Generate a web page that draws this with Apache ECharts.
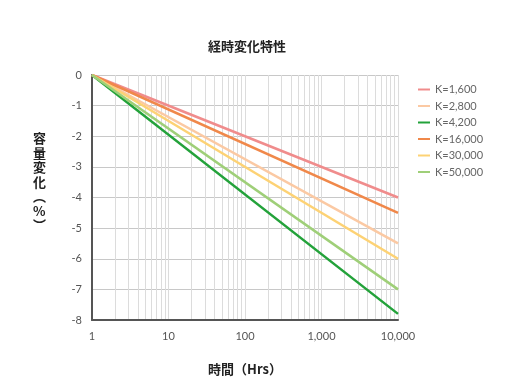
<!DOCTYPE html>
<html><head><meta charset="utf-8">
<script src="https://cdn.jsdelivr.net/npm/echarts@6/dist/echarts.min.js"></script>
<style>html,body{margin:0;padding:0;background:#fff}#c{width:520px;height:390px}</style>
</head><body><div id="c"></div>
<script>
const title = '経時変化特性';
const xName = '時間（Hrs）';
const yNameChars = ['容','量','変','化','︵','%','︶'];
const hours = [1, 10000];
const seriesNames = ['K=1,600','K=2,800','K=4,200','K=16,000','K=30,000','K=50,000'];
const seriesStart = [0, 0, 0, 0, 0, 0];
const seriesEnd = [-4, -5.5, -7.8, -4.5, -6, -7];
const colors = ['#f08c8c','#fbc9a3','#23a23a','#f0884a','#fdd274','#9fcf78'];
const minorGrid = [2,3,4,5,6,7,8,9,20,30,40,50,60,70,80,90,200,300,400,500,600,700,800,900,2000,3000,4000,5000,6000,7000,8000,9000];
const yTicks = [0,-1,-2,-3,-4,-5,-6,-7,-8];

const chart = echarts.init(document.getElementById('c'));
const series = seriesNames.map((n,i)=>({
  name:n, type:'line', z:10, symbol:'none', silent:true,
  lineStyle:{width:2.5,color:colors[i],type:'solid'}, itemStyle:{color:colors[i]},
  data:[[hours[0],seriesStart[i]],[hours[1],seriesEnd[i]]]
}));
series.push({
  name:'grid', type:'line', z:0, data:[], symbol:'none', silent:true,
  markLine:{z:0, silent:true, symbol:'none', label:{show:false}, animation:false,
    lineStyle:{color:'#dcdcdc',width:1,type:'solid'},
    data:minorGrid.map(v=>({xAxis:v}))}
});
chart.setOption({
  animation:false,
  textStyle:{fontFamily:'Lato, "Noto Sans CJK JP", sans-serif'},
  title:{text:title,left:203,top:35,textStyle:{fontSize:13,fontWeight:'bold',color:'#222',fontFamily:'"Noto Sans CJK JP", sans-serif'}},
  legend:{data:seriesNames,orient:'vertical',left:413,top:79,itemGap:5.5,icon:'rect',itemWidth:12,itemHeight:2,
    textStyle:{fontSize:11,color:'#666',fontFamily:'Lato, sans-serif'}},
  grid:{left:92,right:122,top:75,bottom:70,containLabel:false},
  xAxis:{type:'log',logBase:10,min:1,max:10000,
    name:xName,nameLocation:'middle',nameGap:43,
    nameTextStyle:{fontSize:13,fontWeight:'bold',color:'#222',fontFamily:'"Noto Sans CJK JP", sans-serif'},
    axisLine:{show:true,onZero:false,lineStyle:{color:'#555',width:2}},
    axisTick:{show:false},
    axisLabel:{margin:11,fontSize:11,color:'#555',formatter:v=>Number(v).toLocaleString('en-US')},
    splitLine:{show:true,lineStyle:{color:'#dcdcdc',width:1}}},
  yAxis:{type:'value',min:-8,max:0,interval:1,
    axisLine:{show:true,onZero:false,lineStyle:{color:'#555',width:2}},
    axisTick:{show:false},
    axisLabel:{margin:10,fontSize:11,color:'#555'},
    splitLine:{show:true,lineStyle:{color:'#c8c8c8',width:1}}},
  graphic:[{type:'text',left:33,top:131,style:{text:yNameChars.join('\n'),lineHeight:14.5,fontSize:13,fontWeight:'bold',fill:'#222',align:'center',fontFamily:'"Noto Sans CJK JP", sans-serif'}}],
  series:series
});
</script></body></html>
